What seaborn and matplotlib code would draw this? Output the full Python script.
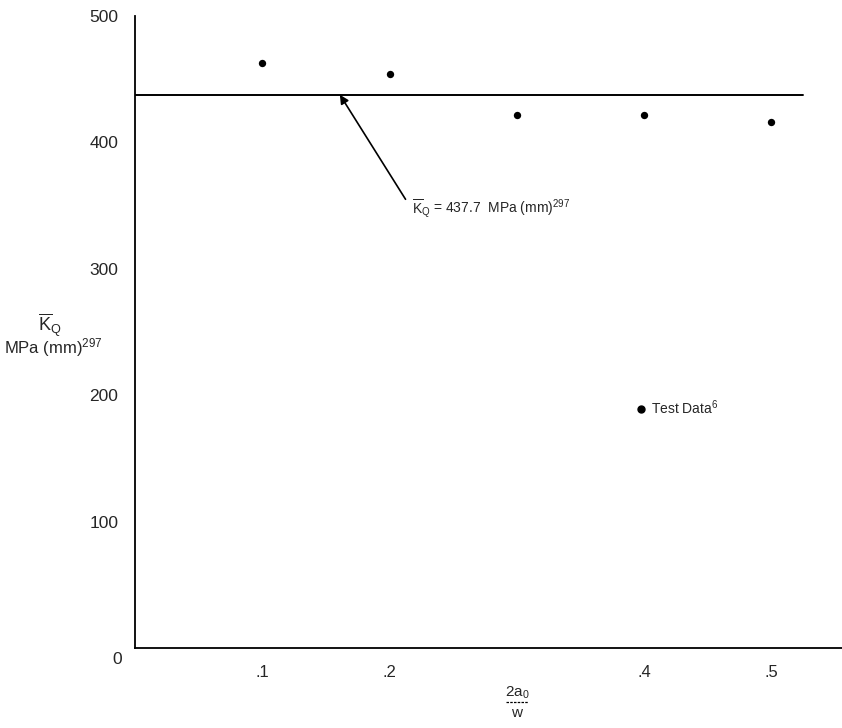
import matplotlib
matplotlib.use("Agg")
import matplotlib.pyplot as plt
import seaborn as sns
import pandas as pd
from matplotlib.lines import Line2D

# ---- data ----
crack_ratio = [0.1, 0.2, 0.3, 0.4, 0.5]
kq_values = [463, 454, 422, 422, 416]
kq_mean = 437.7
mean_line_x = [0.0, 0.525]
x_ticks = [0.1, 0.2, 0.3, 0.4, 0.5]
x_tick_labels = [".1", ".2", "", ".4", ".5"]
y_ticks = [100, 200, 300, 400, 500]
y_tick_labels = ["100", "200", "300", "400", "500"]

sns.set_style("white")
plt.rcParams['font.family'] = ['Liberation Sans', 'DejaVu Sans']
plt.rcParams['mathtext.fontset'] = 'custom'
plt.rcParams['mathtext.rm'] = 'Liberation Sans'
plt.rcParams['mathtext.it'] = 'Liberation Sans'

W, H = 842, 728
fig = plt.figure(figsize=(W / 100, H / 100), dpi=100)
x0, y0 = 135, 648
ax = fig.add_axes([x0 / W, (H - y0) / H, (W - x0) / W, (y0 - 16) / H])

df = pd.DataFrame({"ratio": crack_ratio, "kq": kq_values})
sns.scatterplot(data=df, x="ratio", y="kq", ax=ax, color="black", s=28,
                edgecolor="black", linewidth=0, zorder=3)
sns.lineplot(x=mean_line_x, y=[kq_mean] * len(mean_line_x), ax=ax,
             color="black", lw=1.4)

ax.set_xlim(0, (W - x0) / 1272.5)
ax.set_ylim(0, 500)

for s in ["top", "right"]:
    ax.spines[s].set_visible(False)
for s in ["left", "bottom"]:
    ax.spines[s].set_linewidth(1.3)
    ax.spines[s].set_color("black")

ax.set_xticks(x_ticks)
ax.set_xticklabels(x_tick_labels, fontsize=12)
ax.set_yticks(y_ticks)
ax.set_yticklabels(y_tick_labels, fontsize=12.5)
ax.tick_params(axis="y", direction="out", length=11, width=1.3, pad=1, color="black")
ax.tick_params(axis="x", direction="out", length=7, width=1.3, pad=5, color="black")
ax.set_xlabel("")
ax.set_ylabel("")

# x-axis label as a small fraction 2a0 / w
xc = (517) / W
fig.text(xc, 1 - 693 / H, r"2a$_0$", ha="center", va="center", fontsize=11)
fig.add_artist(Line2D([xc - 11 / W, xc + 11 / W], [1 - 702 / H, 1 - 702 / H],
                      color="black", lw=0.9, linestyle=(0, (2, 1))))
fig.text(xc, 1 - 713 / H, "w", ha="center", va="center", fontsize=11)

# "0" at the origin corner
fig.text(117 / W, 1 - 659 / H, "0", ha="center", va="center", fontsize=12.5)

# y-axis label
fig.text(50 / W, 1 - 325 / H, r"$\overline{\mathrm{K}}_{\mathrm{Q}}$", ha="center",
         va="center", fontsize=13)
fig.text(4 / W, 1 - 348 / H, r"MPa (mm)$^{\mathrm{297}}$", ha="left",
         va="center", fontsize=12)

# annotation: arrow and text
ax.annotate("", xy=(0.161, kq_mean), xytext=(0.2126, 355),
            arrowprops=dict(arrowstyle="-|>", color="black", lw=1.2,
                            mutation_scale=13, shrinkA=0, shrinkB=0))
ax.text(0.2177, 347,
        r"$\overline{\mathrm{K}}_{\mathrm{Q}}$ = 437.7  MPa (mm)$^{\mathrm{297}}$",
        fontsize=10, ha="left", va="center")

handle = Line2D([], [], marker="o", color="black", linestyle="none", markersize=5)
ax.legend([handle], [r"Test Data$^6$"], loc="center left", frameon=False,
          bbox_to_anchor=((633 - x0) / (W - x0), (y0 - 408) / (y0 - 16)),
          fontsize=10, handletextpad=0.1, borderpad=0, borderaxespad=0,
          handlelength=1.2)

fig.savefig("out.png", dpi=100)
